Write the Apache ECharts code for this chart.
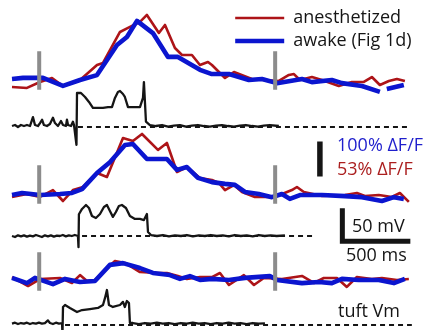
<!DOCTYPE html>
<html>
<head>
<meta charset="utf-8">
<script src="https://cdn.jsdelivr.net/npm/echarts@6/dist/echarts.min.js"></script>
<style>
  html, body { margin: 0; background: #fff; }
  #chart { width: 425px; height: 330px; }
</style>
</head>
<body>
<div id="chart"></div>
<script>
// time in ms, calcium in % dF/F, voltage in mV
const red1 = [[0,-10.6],[110,-12],[206,-3],[294,3],[375,-9],[500,0],[625,22.7],[669,25.8],[794,72.7],[853,78.8],[941,87.9],[992,98.5],[1080,71.2],[1125,83.3],[1198,48.5],[1250,37.9],[1323,37.9],[1382,22.7],[1441,27.3],[1470,22.7],[1566,3],[1632,12],[1764,1.5],[1860,0],[1962,-1.5],[2036,7.6],[2073,9],[2117,0],[2205,4.5],[2279,0],[2403,-9],[2499,-3],[2587,-3],[2646,4.5],[2705,-7.6],[2771,-1.5],[2830,1.5],[2889,-1.5]];
const blue1 = [[0,3],[81,6],[228,6],[375,-17],[500,0],[625,14],[772,100],[845,123],[919,169],[1036,134],[1147,66],[1220,66],[1382,29],[1470,17],[1595,17],[1742,0],[1838,3],[1948,-9],[2132,3],[2205,-6],[2352,0],[2426,-9],[2573,-17],[2705,-34],[2730,'-'],[2756,-26],[2881,-14]];
const red2 = [[0,-4.5],[110,0],[206,-4.5],[301,6],[375,-10.6],[448,6],[522,10.6],[625,31.8],[698,25.8],[816,84.8],[889,80.3],[956,90.9],[1073,66.7],[1139,77.3],[1213,33.3],[1286,40.9],[1382,24.2],[1470,21.2],[1521,16.7],[1566,6],[1632,13.6],[1691,3],[1786,-4.5],[1933,-4.5],[2058,6],[2095,10.6],[2146,3],[2279,-3],[2448,-1.5],[2536,1.5],[2595,-3],[2697,-1.5],[2793,-4.5],[2852,1.5],[2918,-12]];
const blue2 = [[0,-3],[74,3],[206,-3],[353,0],[441,3],[515,14],[625,60],[720,91],[831,140],[889,143],[992,100],[1139,100],[1213,69],[1286,77],[1367,46],[1470,34],[1566,29],[1639,26],[1713,6],[1815,0],[1911,-9],[1985,0],[2043,-14],[2117,-3],[2279,-3],[2448,-6],[2573,-9],[2720,-20],[2808,-9],[2881,-14]];
const red3 = [[0,6],[118,-7.6],[206,3],[353,4.5],[441,-3],[500,9],[551,0],[610,1.5],[757,30.3],[831,27.3],[941,13.6],[1066,12.1],[1139,12.1],[1220,7.6],[1286,3],[1382,6],[1470,6],[1529,12.1],[1595,-6],[1705,9],[1779,-6],[1852,4.5],[1985,3],[2132,7.6],[2220,-3],[2293,4.5],[2389,4.5],[2462,-9],[2536,6],[2646,3],[2720,4.5],[2830,1.5],[2918,3]];
const blue3 = [[0,9],[110,-6],[169,9],[301,-9],[390,6],[500,-3],[610,0],[720,46],[816,51],[941,37],[1036,23],[1161,17],[1235,6],[1308,14],[1382,3],[1470,6],[1595,3],[1713,9],[1896,14],[1948,3],[2132,-6],[2256,-3],[2352,-6],[2426,6],[2550,3],[2697,3],[2808,-6],[2889,6]];

const vm1 = [[0,-68.5],[22,-67],[44,-70],[66,-67],[88,-68.5],[110,-67],[132,-68.5],[154,-55],[169,-67],[191,-68.5],[206,-64],[221,-59],[235,-67],[257,-68.5],[279,-65.5],[301,-56],[316,-64],[338,-68.5],[360,-61],[375,-67],[397,-68.5],[404,-59],[412,-67],[434,-68.5],[448,-62],[456,-67],[470,-67],[474,-97],[478,-18.5],[507,-18.5],[537,-24.5],[566,-32],[595,-41],[632,-41],[669,-41],[706,-40],[735,-40],[757,-26],[779,-17],[794,-15.5],[816,-20],[830,-24.5],[853,-40],[897,-40],[941,-40],[963,-26],[970,-2],[985,-62],[1014,-67],[1058,-68.5],[1103,-67],[1147,-69.5],[1191,-68],[1235,-67],[1279,-69.5],[1323,-68],[1367,-67],[1411,-68.5],[1455,-69.5],[1500,-68],[1544,-67],[1588,-68.5],[1632,-69.5],[1676,-68],[1720,-67],[1764,-68.5],[1808,-69.5],[1852,-68],[1896,-67],[1962,-68.5]];
const vm2 = [[0,-70],[22,-71.5],[44,-69],[66,-70.5],[88,-69],[110,-71],[132,-69.5],[154,-70.5],[176,-68.5],[198,-70],[220,-71.5],[242,-69],[264,-70.5],[286,-69],[308,-71],[330,-69.5],[352,-70],[374,-68.5],[396,-70.5],[418,-69],[440,-70],[462,-68.5],[485,-70],[489,-87],[492,-37],[515,-29],[544,-23],[566,-27.6],[588,-39.7],[617,-42.7],[647,-36.7],[676,-26],[698,-23],[720,-32],[742,-41],[764,-33.6],[786,-24.5],[808,-23],[838,-27.6],[867,-39.7],[904,-44.2],[941,-44.2],[970,-45.8],[992,-36.7],[1000,-64],[1022,-68.5],[1066,-70],[1110,-68.5],[1154,-70.5],[1198,-69],[1242,-70],[1286,-68.5],[1330,-70.5],[1374,-69],[1418,-70],[1462,-68.5],[1506,-70],[1550,-69],[1594,-70.5],[1638,-68.5],[1682,-70],[1726,-69],[1770,-70.5],[1814,-68.5],[1858,-70],[1902,-69],[1946,-70],[2007,-69]];
const vm3 = [[0,-68],[22,-66.5],[44,-68.5],[66,-67],[88,-68],[110,-66.5],[132,-68.5],[154,-67],[176,-68],[198,-66.5],[220,-68],[242,-67],[264,-63],[279,-67],[301,-68.5],[323,-66.5],[345,-68],[368,-67],[371,-85],[375,-42.7],[390,-39.7],[426,-44.2],[478,-50.3],[515,-47.3],[573,-45.8],[632,-44.2],[669,-39.7],[684,-29],[698,-17],[713,-39.7],[742,-42.7],[794,-39.7],[816,-35],[830,-42.7],[845,-33.6],[860,-36.7],[867,-67],[889,-67],[933,-68.5],[977,-67],[1021,-68],[1065,-66.5],[1109,-68],[1153,-67],[1197,-68.5],[1241,-67],[1285,-68],[1329,-66.5],[1373,-68],[1417,-67],[1461,-68.5],[1505,-67],[1549,-68],[1593,-66.5],[1637,-68],[1681,-67],[1725,-68.5],[1769,-67],[1813,-68],[1860,-67.5]];

const restMv = -70;
const dashRange1 = [485, 2930];
const dashRange2 = [515, 2227];
const dashRange3 = [390, 2940];
const markerTimes = [200, 1935];
const markerSpan = [-28, 82];
const redScale = 0.53;          // 53% dF/F drawn as tall as 100% dF/F
const caScaleBar = [[2264, 50], [2264, 150]];
const vmScaleBar = [[2429, -28], [2429, -78], [2929, -78]];

const RED = '#ad1418';
const BLUE = '#0b15cf';
const INK = '#151515';
const FONT = '"Open Sans", sans-serif';

const rows = [
  { red: red1, blue: blue1, vm: vm1, dash: dashRange1 },
  { red: red2, blue: blue2, vm: vm2, dash: dashRange2 },
  { red: red3, blue: blue3, vm: vm3, dash: dashRange3 }
];
const caTop = [3, 117, 204];
const vmTop = [74.2, 183.2, 272.2];

const chart = echarts.init(document.getElementById('chart'));

const grid = [], xAxis = [], yAxis = [], series = [];
rows.forEach((row, i) => {
  const gCa = grid.length;
  // Ca panel: -40..220 %dF/F over 91px, Vm panel: -75..10 mV over 56.1px
  grid.push({ left: 12, width: 408, top: caTop[i], height: 91, show: false, outerBoundsMode: 'none' });
  grid.push({ left: 12, width: 408, top: vmTop[i], height: 56.1, show: false, outerBoundsMode: 'none' });
  xAxis.push({ type: 'value', gridIndex: gCa, min: 0, max: 3000, show: false });
  xAxis.push({ type: 'value', gridIndex: gCa + 1, min: 0, max: 3000, show: false });
  const yb = yAxis.length;
  yAxis.push({ type: 'value', gridIndex: gCa, min: -40, max: 220, show: false });
  yAxis.push({ type: 'value', gridIndex: gCa, min: -40 * redScale, max: 220 * redScale, show: false });
  yAxis.push({ type: 'value', gridIndex: gCa + 1, min: -75, max: 10, show: false });

  series.push({
    name: 'anesthetized', type: 'line', xAxisIndex: gCa, yAxisIndex: yb + 1,
    data: row.red, symbol: 'none', z: 2, clip: false,
    lineStyle: { color: RED, width: 2.6, join: 'round' }, itemStyle: { color: RED }
  });
  series.push({
    name: 'awake (Fig 1d)', type: 'line', xAxisIndex: gCa, yAxisIndex: yb,
    data: row.blue, symbol: 'none', z: 3, clip: false,
    lineStyle: { color: BLUE, width: 4.6, join: 'round' }, itemStyle: { color: BLUE }
  });
  series.push({
    name: 'marker', type: 'line', xAxisIndex: gCa, yAxisIndex: yb, symbol: 'none', z: 4,
    data: markerTimes.flatMap(t => [[t, markerSpan[0]], [t, markerSpan[1]], [t, '-']]),
    lineStyle: { color: '#8c8c8c', width: 4, cap: 'butt' }
  });
  series.push({
    name: 'rest', type: 'line', xAxisIndex: gCa + 1, yAxisIndex: yb + 2, symbol: 'none', z: 2,
    data: [[row.dash[0], restMv], [row.dash[1], restMv]],
    lineStyle: { color: INK, width: 2, type: [5, 4] }
  });
  series.push({
    name: 'tuft Vm', type: 'line', xAxisIndex: gCa + 1, yAxisIndex: yb + 2, symbol: 'none', z: 3,
    clip: false, data: row.vm, lineStyle: { color: INK, width: 2.3, join: 'round' }
  });
  if (i === 1) {
    series.push({
      name: 'ca scale', type: 'line', xAxisIndex: gCa, yAxisIndex: yb, symbol: 'none',
      data: caScaleBar, lineStyle: { color: INK, width: 5.5, cap: 'butt' }
    });
    series.push({
      name: 'vm scale', type: 'line', xAxisIndex: gCa + 1, yAxisIndex: yb + 2, symbol: 'none',
      clip: false, data: vmScaleBar, lineStyle: { color: INK, width: 5, cap: 'butt', join: 'miter' }
    });
  }
});

const label = (text, x, y, color) => ({
  type: 'text', x, y, silent: true,
  style: { text, fill: color, font: '18px ' + FONT, verticalAlign: 'middle' }
});

chart.setOption({
  animation: false,
  backgroundColor: '#fff',
  grid, xAxis, yAxis, series,
  legend: {
    orient: 'vertical', left: 233, top: 8, padding: 0,
    itemWidth: 49, itemHeight: 20, itemGap: 3, selectedMode: false,
    textStyle: { fontFamily: FONT, fontSize: 18, color: INK, lineHeight: 20, padding: [0, 0, 0, 4] },
    itemStyle: { opacity: 0 },
    data: [
      { name: 'anesthetized', lineStyle: { width: 2.6 } },
      { name: 'awake (Fig 1d)', lineStyle: { width: 4.4 } }
    ]
  },
  graphic: [
    label('100% ΔF/F', 337, 146, '#1f1fcc'),
    label('53% ΔF/F', 337, 170, '#ab1f1f'),
    label('50 mV', 352, 227, INK),
    label('500 ms', 346, 256, INK),
    label('tuft Vm', 338, 312, INK)
  ]
});
</script>
</body>
</html>
